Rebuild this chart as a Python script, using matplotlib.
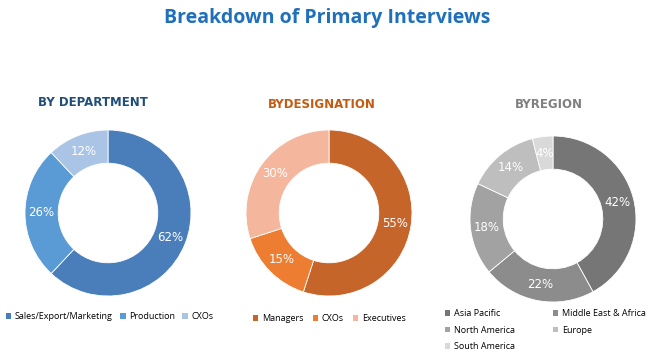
import matplotlib.pyplot as plt
from matplotlib.patches import Patch

# data
dept_labels = ['Sales/Export/Marketing', 'Production', 'CXOs']
dept_values = [62, 26, 12]
dept_colors = ['#4a7ebb', '#5b9bd5', '#a9c4e4']

desig_labels = ['Managers', 'CXOs', 'Executives']
desig_values = [55, 15, 30]
desig_colors = ['#c5652a', '#ed7d31', '#f4b69c']

region_labels = ['Asia Pacific', 'Middle East & Africa', 'North America', 'Europe', 'South America']
region_values = [42, 22, 18, 14, 4]
region_colors = ['#767676', '#8c8c8c', '#a2a2a2', '#bebebe', '#d9d9d9']

W, H = 650, 361
fig = plt.figure(figsize=(W / 100, H / 100), dpi=100)
fig.patch.set_facecolor('white')


def donut(cx, cy, r, values, colors, title, title_color, title_xy):
    ax = fig.add_axes([(cx - r) / W, (H - cy - r) / H, 2 * r / W, 2 * r / H])
    wedges, texts = ax.pie(values, colors=colors, startangle=90, counterclock=False,
                           radius=1, wedgeprops=dict(width=0.4, edgecolor='white', linewidth=0.6),
                           labels=[f'{v}%' for v in values], labeldistance=0.8,
                           textprops=dict(color='white', fontsize=8.5))
    for t in texts:
        t.set_ha('center')
        t.set_va('center')
    ax.set_xlim(-1, 1)
    ax.set_ylim(-1, 1)
    ax.set_aspect('equal')
    ax.axis('off')
    fig.text(title_xy[0] / W, 1 - title_xy[1] / H, title, color=title_color,
             fontsize=8.5, fontweight='bold', family='DejaVu Sans',
             ha='center', va='center')
    return wedges


fig.text(327 / W, 1 - 18 / H, 'Breakdown of Primary Interviews', color='#1f6fba',
         fontsize=14, fontweight='bold', family=['Open Sans', 'DejaVu Sans'],
         ha='center', va='center')

donut(108, 213, 83, dept_values, dept_colors, 'BY DEPARTMENT', '#1f4e79', (93, 103))
donut(329, 213, 83, desig_values, desig_colors, 'BYDESIGNATION', '#c55a11', (322, 105))
donut(553, 219, 83, region_values, region_colors, 'BYREGION', '#7f7f7f', (549, 105))


def legend(labels, colors, x, y, ncol, colsp, order=None):
    handles = [Patch(facecolor=c, edgecolor='none') for c in colors]
    if order is not None:
        handles = [handles[i] for i in order]
        labels = [labels[i] for i in order]
    fig.legend(handles, labels, loc='upper left', bbox_to_anchor=(x / W, 1 - y / H),
               ncol=ncol, frameon=False, handlelength=0.6, handleheight=0.6,
               handletextpad=0.4, columnspacing=colsp, labelspacing=0.85,
               borderaxespad=0, borderpad=0,
               prop=dict(family=['Open Sans', 'DejaVu Sans'], size=6.5))


legend(dept_labels, dept_colors, 6, 312, 3, 0.8)
legend(desig_labels, desig_colors, 253, 314, 3, 1.0)
# legend reads row by row in the reference
legend(region_labels, region_colors, 445, 309, 2, 4.2, order=[0, 2, 4, 1, 3])

fig.savefig('out.png', dpi=100, facecolor='white')
